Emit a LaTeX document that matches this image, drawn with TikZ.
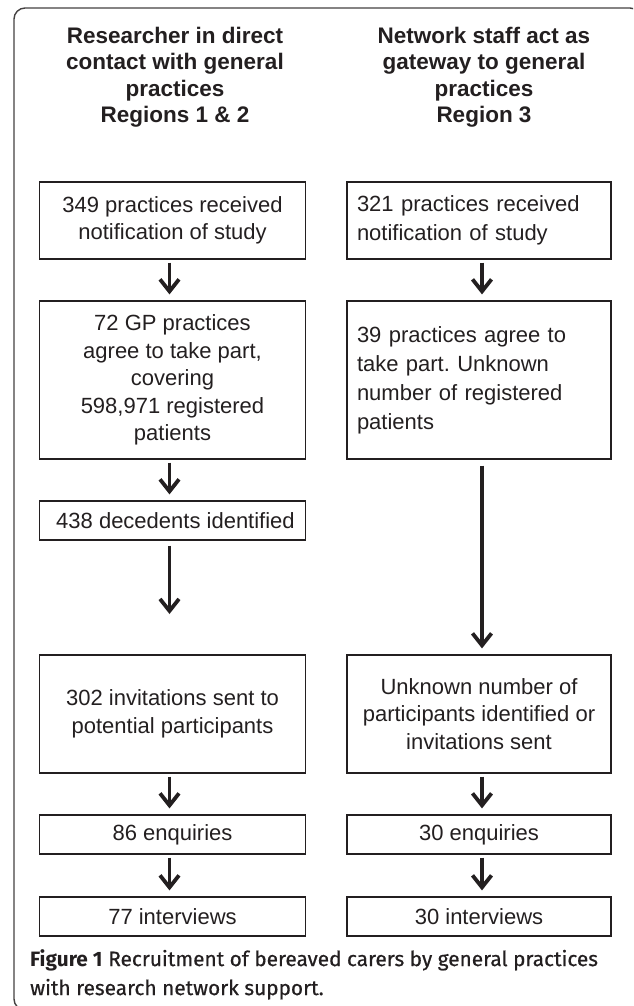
\documentclass[tikz,border=0pt]{standalone}
\usepackage{fontspec}
\setmainfont{Liberation Sans}
\newfontfamily\capfont{Fira Sans}
\newfontfamily\capmed[FakeBold=0.6]{Fira Sans}
\usetikzlibrary{arrows.meta}
\definecolor{ink}{HTML}{231F20}
\begin{document}
\begin{tikzpicture}[x=1pt,y=-1pt,
  box/.style={draw=ink, line width=1.2pt, inner sep=0pt, text=ink,
     font=\fontsize{22}{27.5}\selectfont, align=center},
  lbox/.style={box, align=left, text width=244pt, inner xsep=10pt},
  head/.style={text=ink, font=\bfseries\fontsize{22.5}{26.5}\selectfont, align=center, inner sep=0pt},
  arr/.style={draw=ink, line width=3.2pt, -{Straight Barb[length=12pt,width=19pt,line width=3.8pt]}},
  frame/.style={draw=ink!85, line width=1.4pt, rounded corners=11pt}]
\useasboundingbox (0,0) rectangle (633,1006);
\begin{scope}
\clip (0,0) rectangle (633,1006);
\draw[frame] (14,8) rectangle (641,1010);
\end{scope}
% headings
\node[head] (hL) at (175,77) {Researcher in direct\\contact with general\\practices\\Regions 1 \& 2};
\node[head] (hR) at (484,77) {Network staff act as\\gateway to general\\practices\\Region 3};
% left column
\node[box, minimum width=266pt, minimum height=77pt] (L1) at (172.5,220.5) {349 practices received\\notification of study};
\node[box, minimum width=266pt, minimum height=158pt] (L2) at (172.5,380) {72 GP practices\\agree to take part,\\covering\\598,971 registered\\patients};
\node[box, minimum width=266pt, minimum height=39pt] (L3) at (172.5,520.5) {\hspace*{6pt}438 decedents identified};
\node[box, minimum width=266pt, minimum height=118pt] (L4) at (172.5,714) {302 invitations sent to\\potential participants};
\node[box, minimum width=266pt, minimum height=39pt] (L5) at (172.5,834.5) {86 enquiries};
\node[box, minimum width=266pt, minimum height=39pt] (L6) at (172.5,916.5) {77 interviews};
% right column
\node[lbox, minimum height=77pt] (R1) at (479,220.5) {321 practices received\\[2pt]notification of study};
\node[lbox, minimum height=158pt] (R2) at (479,380) {39 practices agree to\\[1.5pt]take part.\ Unknown\\[1.5pt]number of registered\\[1.5pt]patients};
\node[box, minimum width=264pt, minimum height=118pt] (R4) at (479,714) {Unknown number of\\participants identified or\\invitations sent};
\node[box, minimum width=264pt, minimum height=39pt] (R5) at (479,834.5) {30 enquiries};
\node[box, minimum width=264pt, minimum height=39pt] (R6) at (479,916.5) {30 interviews};
% free end of the left long arrow
\coordinate (L3end) at (169.5,614);
% arrows
\draw[arr, shorten <=3pt, shorten >=6pt] ([xshift=-3pt]L1.south) -- ([xshift=-3pt]L2.north);
\draw[arr, shorten <=3pt, shorten >=6pt] ([xshift=-3pt]L2.south) -- ([xshift=-3pt]L3.north);
\draw[arr, shorten <=5pt] ([xshift=-3pt]L3.south) -- (L3end);
\draw[arr, shorten <=3pt, shorten >=6pt] ([xshift=-3pt]L4.south) -- ([xshift=-3pt]L5.north);
\draw[arr, shorten <=3pt, shorten >=6pt] ([xshift=-3pt]L5.south) -- ([xshift=-3pt]L6.north);
\draw[arr, shorten <=3pt, shorten >=6pt] ([xshift=3pt]R1.south) -- ([xshift=3pt]R2.north);
\draw[arr, shorten <=6pt, shorten >=6pt] ([xshift=3pt]R2.south) -- ([xshift=3pt]R4.north);
\draw[arr, shorten <=3pt, shorten >=6pt] ([xshift=3pt]R4.south) -- ([xshift=3pt]R5.north);
\draw[arr, shorten <=3pt, shorten >=6pt] ([xshift=3pt]R5.south) -- ([xshift=3pt]R6.north);
% caption
\node[anchor=north west, inner sep=0pt, align=left, text=ink,
  font=\fontsize{20.8}{29}\selectfont] (cap) at (30,949)
  {{\capfont\bfseries Figure 1} {\capmed Recruitment of bereaved carers by general practices}\\{\capmed with research network support.}};
\end{tikzpicture}
\end{document}
